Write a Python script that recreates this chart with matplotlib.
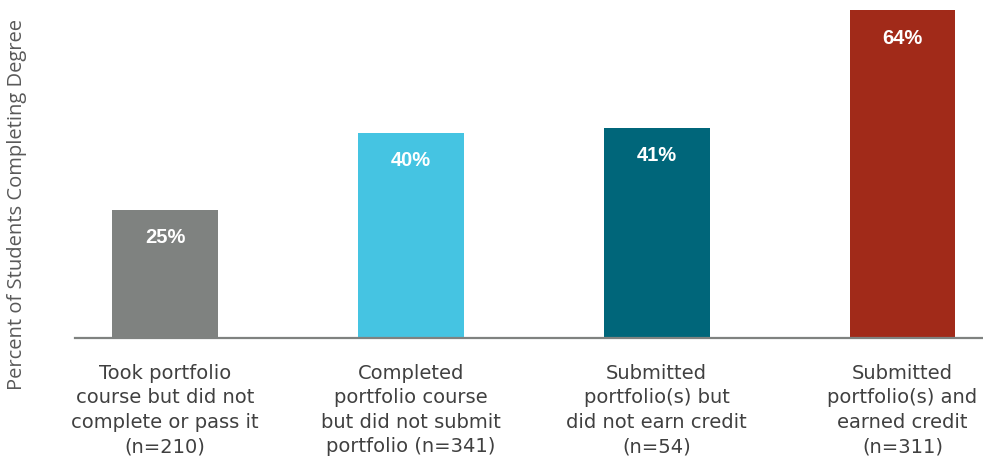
import matplotlib
matplotlib.use("Agg")
import matplotlib.pyplot as plt

plt.rcParams["font.family"] = ["DejaVu Sans"]

categories = [
    "Took portfolio\ncourse but did not\ncomplete or pass it\n(n=210)",
    "Completed\nportfolio course\nbut did not submit\nportfolio (n=341)",
    "Submitted\nportfolio(s) but\ndid not earn credit\n(n=54)",
    "Submitted\nportfolio(s) and\nearned credit\n(n=311)",
]
values = [25, 40, 41, 64]
value_labels = ["25%", "40%", "41%", "64%"]
colors = ["#7F8280", "#45C4E2", "#00667A", "#A12A19"]

W, H = 983, 462
fig = plt.figure(figsize=(W / 100, H / 100), dpi=100)
ax = fig.add_axes([75 / W, (H - 338) / H, (W - 75) / W, 338 / H])

x = list(range(len(values)))
ax.bar(x, values, width=0.431, color=colors, zorder=2)
ax.set_xlim(-0.366, 3.3275)
ax.set_ylim(0, 66)

for xi, v, lab in zip(x, values, value_labels):
    ax.annotate(lab, (xi, v), xytext=(0, -20), textcoords="offset points",
                ha="center", va="center", color="white", fontweight="bold",
                fontsize=14.5, family="Liberation Sans")

for s in ["top", "right", "left"]:
    ax.spines[s].set_visible(False)
ax.spines["bottom"].set_color("#7F8280")
ax.spines["bottom"].set_linewidth(1.6)
ax.set_yticks([])
ax.set_xticks(x)
ax.set_xticklabels(categories)
for t in ax.get_xticklabels():
    t.set_fontfamily("DejaVu Sans")
    t.set_fontsize(14)
    t.set_color("#404040")
    t.set_linespacing(1.37)
ax.tick_params(axis="x", length=0, pad=18.5)

fig.text(17 / W, 1 - 205 / H, "Percent of Students Completing Degree",
         rotation=90, ha="center", va="center", fontsize=14.5, color="#595959",
         family="Open Sans")

fig.savefig("out.png", dpi=100)
